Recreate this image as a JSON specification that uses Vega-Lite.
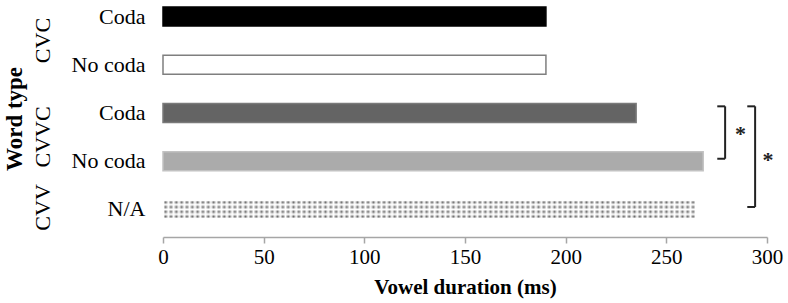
{
  "$schema": "https://vega.github.io/schema/vega-lite/v6.json",
  "width": 604,
  "height": 237,
  "autosize": {"type": "none"},
  "padding": {"left": 163, "top": 0, "right": 21, "bottom": 66},
  "config": {
    "font": "Liberation Serif",
    "view": {"stroke": null},
    "axis": {"labelFont": "Liberation Serif", "titleFont": "Liberation Serif", "labelColor": "#000000", "titleColor": "#000000"}
  },
  "datasets": {
    "bars": [
      {"row": "CVC|Coda", "group": "CVC", "cond": "Coda", "dur": 190.2},
      {"row": "CVC|No coda", "group": "CVC", "cond": "No coda", "dur": 190.2},
      {"row": "CVVC|Coda", "group": "CVVC", "cond": "Coda", "dur": 235},
      {"row": "CVVC|No coda", "group": "CVVC", "cond": "No coda", "dur": 268.3},
      {"row": "CVV|N/A", "group": "CVV", "cond": "N/A", "dur": 264.6}
    ],
    "brackets": [
      {"from": "CVVC|Coda", "to": "CVVC|No coda", "xv": 279.2, "xt": 275.3},
      {"from": "CVVC|Coda", "to": "CVV|N/A", "xv": 294.1, "xt": 290.2}
    ],
    "stars": [
      {"id": 1, "row": "CVVC|No coda", "x": 286.8, "s": "*"},
      {"id": 2, "row": "CVVC|No coda", "x": 300.5, "s": "*"}
    ]
  },
  "layer": [
    {
      "layer": [
        {
          "data": {"name": "bars"},
          "mark": {"type": "bar", "strokeWidth": 1.5},
          "encoding": {
            "y": {
              "field": "row", "type": "nominal", "sort": null,
              "scale": {"domain": ["CVC|Coda", "CVC|No coda", "CVVC|Coda", "CVVC|No coda", "CVV|N/A"], "paddingInner": 0.606, "paddingOuter": 0.26, "align": 0.28},
              "axis": {"title": null, "domain": false, "ticks": false, "labelExpr": "split(datum.value, '|')[1]", "labelFontSize": 22, "labelPadding": 18}
            },
            "x": {
              "field": "dur", "type": "quantitative", "title": "Vowel duration (ms)",
              "scale": {"domain": [0, 300], "nice": false},
              "axis": {"title": "Vowel duration (ms)", "values": [0, 50, 100, 150, 200, 250, 300], "grid": false, "domainColor": "#a6a6a6", "tickColor": "#a6a6a6", "tickSize": 6, "domainWidth": 1.5, "tickWidth": 1.5, "labelFontSize": 21, "labelPadding": 3, "labelFlush": false, "titleFontSize": 21, "titleFontWeight": "bold", "titlePadding": 9}
            },
            "fill": {
              "condition": {"test": "datum.row == 'CVV|N/A'", "value": {"gradient": "linear", "x1": 0, "x2": 1, "y1": 0, "y2": 0, "stops": [
                {"offset":0,"color":"#fff"},{"offset":0.005,"color":"#666"},{"offset":0.01,"color":"#fff"},{"offset":0.015,"color":"#666"},{"offset":0.02,"color":"#fff"},{"offset":0.025,"color":"#666"},{"offset":0.03,"color":"#fff"},{"offset":0.035,"color":"#666"},{"offset":0.04,"color":"#fff"},{"offset":0.045,"color":"#666"},
                {"offset":0.05,"color":"#fff"},{"offset":0.055,"color":"#666"},{"offset":0.06,"color":"#fff"},{"offset":0.065,"color":"#666"},{"offset":0.07,"color":"#fff"},{"offset":0.075,"color":"#666"},{"offset":0.08,"color":"#fff"},{"offset":0.085,"color":"#666"},{"offset":0.09,"color":"#fff"},{"offset":0.095,"color":"#666"},
                {"offset":0.1,"color":"#fff"},{"offset":0.105,"color":"#666"},{"offset":0.11,"color":"#fff"},{"offset":0.115,"color":"#666"},{"offset":0.12,"color":"#fff"},{"offset":0.125,"color":"#666"},{"offset":0.13,"color":"#fff"},{"offset":0.135,"color":"#666"},{"offset":0.14,"color":"#fff"},{"offset":0.145,"color":"#666"},
                {"offset":0.15,"color":"#fff"},{"offset":0.155,"color":"#666"},{"offset":0.16,"color":"#fff"},{"offset":0.165,"color":"#666"},{"offset":0.17,"color":"#fff"},{"offset":0.175,"color":"#666"},{"offset":0.18,"color":"#fff"},{"offset":0.185,"color":"#666"},{"offset":0.19,"color":"#fff"},{"offset":0.195,"color":"#666"},
                {"offset":0.2,"color":"#fff"},{"offset":0.205,"color":"#666"},{"offset":0.21,"color":"#fff"},{"offset":0.215,"color":"#666"},{"offset":0.22,"color":"#fff"},{"offset":0.225,"color":"#666"},{"offset":0.23,"color":"#fff"},{"offset":0.235,"color":"#666"},{"offset":0.24,"color":"#fff"},{"offset":0.245,"color":"#666"},
                {"offset":0.25,"color":"#fff"},{"offset":0.255,"color":"#666"},{"offset":0.26,"color":"#fff"},{"offset":0.265,"color":"#666"},{"offset":0.27,"color":"#fff"},{"offset":0.275,"color":"#666"},{"offset":0.28,"color":"#fff"},{"offset":0.285,"color":"#666"},{"offset":0.29,"color":"#fff"},{"offset":0.295,"color":"#666"},
                {"offset":0.3,"color":"#fff"},{"offset":0.305,"color":"#666"},{"offset":0.31,"color":"#fff"},{"offset":0.315,"color":"#666"},{"offset":0.32,"color":"#fff"},{"offset":0.325,"color":"#666"},{"offset":0.33,"color":"#fff"},{"offset":0.335,"color":"#666"},{"offset":0.34,"color":"#fff"},{"offset":0.345,"color":"#666"},
                {"offset":0.35,"color":"#fff"},{"offset":0.355,"color":"#666"},{"offset":0.36,"color":"#fff"},{"offset":0.365,"color":"#666"},{"offset":0.37,"color":"#fff"},{"offset":0.375,"color":"#666"},{"offset":0.38,"color":"#fff"},{"offset":0.385,"color":"#666"},{"offset":0.39,"color":"#fff"},{"offset":0.395,"color":"#666"},
                {"offset":0.4,"color":"#fff"},{"offset":0.405,"color":"#666"},{"offset":0.41,"color":"#fff"},{"offset":0.415,"color":"#666"},{"offset":0.42,"color":"#fff"},{"offset":0.425,"color":"#666"},{"offset":0.43,"color":"#fff"},{"offset":0.435,"color":"#666"},{"offset":0.44,"color":"#fff"},{"offset":0.445,"color":"#666"},
                {"offset":0.45,"color":"#fff"},{"offset":0.455,"color":"#666"},{"offset":0.46,"color":"#fff"},{"offset":0.465,"color":"#666"},{"offset":0.47,"color":"#fff"},{"offset":0.475,"color":"#666"},{"offset":0.48,"color":"#fff"},{"offset":0.485,"color":"#666"},{"offset":0.49,"color":"#fff"},{"offset":0.495,"color":"#666"},
                {"offset":0.5,"color":"#fff"},{"offset":0.505,"color":"#666"},{"offset":0.51,"color":"#fff"},{"offset":0.515,"color":"#666"},{"offset":0.52,"color":"#fff"},{"offset":0.525,"color":"#666"},{"offset":0.53,"color":"#fff"},{"offset":0.535,"color":"#666"},{"offset":0.54,"color":"#fff"},{"offset":0.545,"color":"#666"},
                {"offset":0.55,"color":"#fff"},{"offset":0.555,"color":"#666"},{"offset":0.56,"color":"#fff"},{"offset":0.565,"color":"#666"},{"offset":0.57,"color":"#fff"},{"offset":0.575,"color":"#666"},{"offset":0.58,"color":"#fff"},{"offset":0.585,"color":"#666"},{"offset":0.59,"color":"#fff"},{"offset":0.595,"color":"#666"},
                {"offset":0.6,"color":"#fff"},{"offset":0.605,"color":"#666"},{"offset":0.61,"color":"#fff"},{"offset":0.615,"color":"#666"},{"offset":0.62,"color":"#fff"},{"offset":0.625,"color":"#666"},{"offset":0.63,"color":"#fff"},{"offset":0.635,"color":"#666"},{"offset":0.64,"color":"#fff"},{"offset":0.645,"color":"#666"},
                {"offset":0.65,"color":"#fff"},{"offset":0.655,"color":"#666"},{"offset":0.66,"color":"#fff"},{"offset":0.665,"color":"#666"},{"offset":0.67,"color":"#fff"},{"offset":0.675,"color":"#666"},{"offset":0.68,"color":"#fff"},{"offset":0.685,"color":"#666"},{"offset":0.69,"color":"#fff"},{"offset":0.695,"color":"#666"},
                {"offset":0.7,"color":"#fff"},{"offset":0.705,"color":"#666"},{"offset":0.71,"color":"#fff"},{"offset":0.715,"color":"#666"},{"offset":0.72,"color":"#fff"},{"offset":0.725,"color":"#666"},{"offset":0.73,"color":"#fff"},{"offset":0.735,"color":"#666"},{"offset":0.74,"color":"#fff"},{"offset":0.745,"color":"#666"},
                {"offset":0.75,"color":"#fff"},{"offset":0.755,"color":"#666"},{"offset":0.76,"color":"#fff"},{"offset":0.765,"color":"#666"},{"offset":0.77,"color":"#fff"},{"offset":0.775,"color":"#666"},{"offset":0.78,"color":"#fff"},{"offset":0.785,"color":"#666"},{"offset":0.79,"color":"#fff"},{"offset":0.795,"color":"#666"},
                {"offset":0.8,"color":"#fff"},{"offset":0.805,"color":"#666"},{"offset":0.81,"color":"#fff"},{"offset":0.815,"color":"#666"},{"offset":0.82,"color":"#fff"},{"offset":0.825,"color":"#666"},{"offset":0.83,"color":"#fff"},{"offset":0.835,"color":"#666"},{"offset":0.84,"color":"#fff"},{"offset":0.845,"color":"#666"},
                {"offset":0.85,"color":"#fff"},{"offset":0.855,"color":"#666"},{"offset":0.86,"color":"#fff"},{"offset":0.865,"color":"#666"},{"offset":0.87,"color":"#fff"},{"offset":0.875,"color":"#666"},{"offset":0.88,"color":"#fff"},{"offset":0.885,"color":"#666"},{"offset":0.89,"color":"#fff"},{"offset":0.895,"color":"#666"},
                {"offset":0.9,"color":"#fff"},{"offset":0.905,"color":"#666"},{"offset":0.91,"color":"#fff"},{"offset":0.915,"color":"#666"},{"offset":0.92,"color":"#fff"},{"offset":0.925,"color":"#666"},{"offset":0.93,"color":"#fff"},{"offset":0.935,"color":"#666"},{"offset":0.94,"color":"#fff"},{"offset":0.945,"color":"#666"},
                {"offset":0.95,"color":"#fff"},{"offset":0.955,"color":"#666"},{"offset":0.96,"color":"#fff"},{"offset":0.965,"color":"#666"},{"offset":0.97,"color":"#fff"},{"offset":0.975,"color":"#666"},{"offset":0.98,"color":"#fff"},{"offset":0.985,"color":"#666"},{"offset":0.99,"color":"#fff"},{"offset":0.995,"color":"#666"},
                {"offset":1,"color":"#fff"}
              ]}},
              "field": "row", "type": "nominal",
              "scale": {"domain": ["CVC|Coda", "CVC|No coda", "CVVC|Coda", "CVVC|No coda", "CVV|N/A"], "range": ["#000000", "#ffffff", "#646464", "#ababab", "#cccccc"]},
              "legend": null
            },
            "stroke": {
              "field": "row", "type": "nominal",
              "scale": {"domain": ["CVC|Coda", "CVC|No coda", "CVVC|Coda", "CVVC|No coda", "CVV|N/A"], "range": ["#000000", "#7f7f7f", "#7a7a7a", "#c2c2c2", "#ffffff"]},
              "legend": null
            }
          }
        },
        {
          "data": {"name": "bars"},
          "transform": [{"filter": "datum.row == 'CVV|N/A'"}],
          "mark": {"type": "bar", "strokeWidth": 1.5, "stroke": "#ffffff", "fill": {"gradient": "linear", "x1": 0, "x2": 0, "y1": 0, "y2": 1, "stops": [
            {"offset": 0, "color": "rgba(255,255,255,1)"},
            {"offset": 0.125, "color": "rgba(255,255,255,0)"},
            {"offset": 0.25, "color": "rgba(255,255,255,1)"},
            {"offset": 0.375, "color": "rgba(255,255,255,0)"},
            {"offset": 0.5, "color": "rgba(255,255,255,1)"},
            {"offset": 0.625, "color": "rgba(255,255,255,0)"},
            {"offset": 0.75, "color": "rgba(255,255,255,1)"},
            {"offset": 0.875, "color": "rgba(255,255,255,0)"},
            {"offset": 1, "color": "rgba(255,255,255,1)"}
          ]}},
          "encoding": {
            "y": {"field": "row", "type": "nominal"},
            "x": {"field": "dur", "type": "quantitative", "title": "Vowel duration (ms)"}
          }
        }
      ]
    },
    {
      "layer": [
        {
          "data": {"name": "brackets"},
          "mark": {"type": "rule", "strokeWidth": 2, "color": "#222222"},
          "encoding": {
            "x": {"field": "xv", "type": "quantitative", "title": "Vowel duration (ms)", "scale": {"domain": [0, 300], "nice": false}},
            "y": {
              "field": "from", "type": "nominal", "bandPosition": 0.15,
              "scale": {"domain": ["CVC|Coda", "CVC|No coda", "CVVC|Coda", "CVVC|No coda", "CVV|N/A"], "paddingInner": 0.606, "paddingOuter": 0.26, "align": 0.28},
              "axis": {
                "orient": "left", "offset": 100, "title": "Word type", "titleFontSize": 23, "titleFontWeight": "bold", "titlePadding": 5,
                "domain": false, "ticks": false, "labelAngle": 270, "labelAlign": "center", "labelBaseline": "bottom", "labelFontSize": 22, "labelPadding": 9,
                "labelExpr": "datum.value == 'CVC|Coda' ? 'CVC' : datum.value == 'CVVC|Coda' ? 'CVVC' : datum.value == 'CVV|N/A' ? 'CVV' : ''",
                "labelOffset": {"condition": {"test": "datum.value == 'CVV|N/A'", "value": -2}, "value": 24}
              }
            },
            "y2": {"field": "to", "bandPosition": 0.37}
          }
        },
        {
          "data": {"name": "brackets"},
          "mark": {"type": "rule", "strokeWidth": 2, "color": "#222222"},
          "encoding": {
            "x": {"field": "xt", "type": "quantitative", "title": "Vowel duration (ms)"},
            "x2": {"field": "xv"},
            "y": {"field": "from", "type": "nominal", "bandPosition": 0.15}
          }
        },
        {
          "data": {"name": "brackets"},
          "mark": {"type": "rule", "strokeWidth": 2, "color": "#222222"},
          "encoding": {
            "x": {"field": "xt", "type": "quantitative", "title": "Vowel duration (ms)"},
            "x2": {"field": "xv"},
            "y": {"field": "to", "type": "nominal", "bandPosition": 0.37}
          }
        },
        {
          "data": {"name": "stars"},
          "transform": [{"filter": "datum.id == 1"}],
          "mark": {"type": "text", "fontSize": 22, "fontWeight": "bold", "baseline": "alphabetic", "align": "center", "dy": -10.5, "fill": "#222222"},
          "encoding": {
            "x": {"field": "x", "type": "quantitative", "title": "Vowel duration (ms)"},
            "y": {"field": "row", "type": "nominal", "bandPosition": 0},
            "text": {"field": "s"}
          }
        },
        {
          "data": {"name": "stars"},
          "transform": [{"filter": "datum.id == 2"}],
          "mark": {"type": "text", "fontSize": 22, "fontWeight": "bold", "baseline": "alphabetic", "align": "center", "fill": "#222222"},
          "encoding": {
            "x": {"field": "x", "type": "quantitative", "title": "Vowel duration (ms)"},
            "y": {"field": "row", "type": "nominal", "bandPosition": 0.8},
            "text": {"field": "s"}
          }
        }
      ]
    }
  ],
  "resolve": {"scale": {"y": "independent"}, "axis": {"y": "independent"}}
}
